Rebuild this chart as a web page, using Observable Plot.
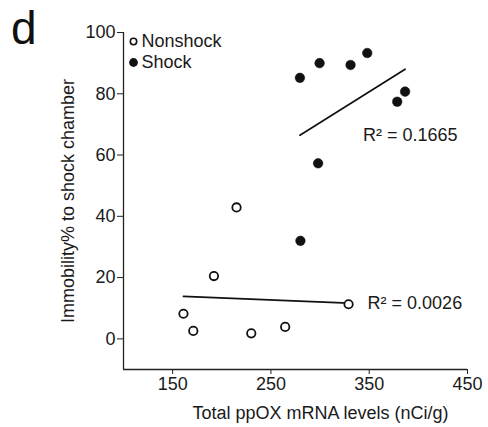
<!DOCTYPE html>
<html>
<head>
<meta charset="utf-8">
<script src="https://cdn.jsdelivr.net/npm/d3@7"></script>
<script src="https://cdn.jsdelivr.net/npm/@observablehq/plot@0.6"></script>
<style>
  html, body { margin: 0; padding: 0; background: #fff; }
  #wrap { position: relative; width: 488px; height: 427px; }
  #panel { position: absolute; left: 11px; top: 5px; font: 46px "Liberation Sans", Arial, sans-serif; color: #111; line-height: 1; }
</style>
</head>
<body>
<div id="wrap"><div id="panel">d</div></div>
<script>
// ppOX mRNA (nCi/g) vs immobility (%) for each group
const nonshockX = [161, 171, 192, 215, 230, 264.5, 329];
const nonshockY = [8.2, 2.6, 20.5, 42.9, 1.8, 3.9, 11.3];
const shockX = [280, 298, 279.5, 299.5, 331, 348, 378.5, 386.5];
const shockY = [32, 57.3, 85.2, 90, 89.4, 93.3, 77.4, 80.7];

const groupNames = ["Nonshock", "Shock"];
const r2Labels = ["R\u00b2 = 0.0026", "R\u00b2 = 0.1665"];
const xTicks = [150, 250, 350, 450];
const yTicks = [0, 20, 40, 60, 80, 100];
const xTitle = "Total ppOX mRNA levels (nCi/g)";
const yTitle = "Immobility% to shock chamber";

const nonshock = nonshockX.map((x, i) => ({x, y: nonshockY[i]}));
const shock = shockX.map((x, i) => ({x, y: shockY[i]}));

// least-squares fit, returning the fitted line's end points
function fit(data) {
  const mx = d3.mean(data, d => d.x), my = d3.mean(data, d => d.y);
  const b = d3.sum(data, d => (d.x - mx) * (d.y - my)) / d3.sum(data, d => (d.x - mx) ** 2);
  const [x0, x1] = d3.extent(data, d => d.x);
  return {start: {x: x0, y: my + b * (x0 - mx)}, end: {x: x1, y: my + b * (x1 - mx)}};
}
const fitN = fit(nonshock), fitS = fit(shock);

const font = '"Liberation Sans", Arial, sans-serif';

const chart = Plot.plot({
  width: 488,
  height: 427,
  marginLeft: 123,
  marginRight: 21,
  marginTop: 32,
  marginBottom: 58,
  style: {fontFamily: font, fontSize: "18px", color: "#1a1a1a", background: "#fff"},
  x: {domain: [100, 450]},
  y: {domain: [-10, 100]},
  marks: [
    Plot.ruleX([100], {stroke: "#222", strokeWidth: 1.3}),
    Plot.ruleY([-10], {stroke: "#222", strokeWidth: 1.3}),
    Plot.axisX({ticks: xTicks, tickSize: 5, tickPadding: 3, label: null, stroke: "#222", fontSize: 18}),
    Plot.axisY({ticks: yTicks, tickSize: 6, tickPadding: 2, label: null, stroke: "#222", fontSize: 18}),
    Plot.text([xTitle], {frameAnchor: "bottom", textAnchor: "middle", lineAnchor: "middle", dx: 25, dy: 44, fontSize: 18}),
    Plot.text([yTitle], {frameAnchor: "left", textAnchor: "middle", lineAnchor: "middle", rotate: -90, dx: -55, fontSize: 18}),
    Plot.linearRegressionY(nonshock, {x: "x", y: "y", ci: 0, stroke: "#111", strokeWidth: 1.7}),
    Plot.linearRegressionY(shock, {x: "x", y: "y", ci: 0, stroke: "#111", strokeWidth: 1.7}),
    Plot.dot(nonshock, {x: "x", y: "y", r: 4.2, fill: "#fff", stroke: "#111", strokeWidth: 1.8}),
    Plot.dot(shock, {x: "x", y: "y", r: 4.8, fill: "#111", stroke: "#111", strokeWidth: 0.5}),
    Plot.text([fitN.end], {x: "x", y: "y", text: () => r2Labels[0], textAnchor: "start", dx: 19, fontSize: 18}),
    Plot.text([fitS.start], {x: "x", y: "y", text: () => r2Labels[1], textAnchor: "start", dx: 63, fontSize: 18}),
    // legend
    Plot.dot([groupNames[0]], {frameAnchor: "top-left", dx: 10, dy: 9, r: 3.2, fill: "#fff", stroke: "#111", strokeWidth: 1.6}),
    Plot.dot([groupNames[1]], {frameAnchor: "top-left", dx: 10, dy: 30, r: 4.4, fill: "#111"}),
    Plot.text([groupNames[0]], {frameAnchor: "top-left", textAnchor: "start", lineAnchor: "middle", dx: 18, dy: 9, fontSize: 18}),
    Plot.text([groupNames[1]], {frameAnchor: "top-left", textAnchor: "start", lineAnchor: "middle", dx: 18, dy: 30, fontSize: 18})
  ]
});
document.getElementById("wrap").appendChild(chart);
</script>
</body>
</html>
